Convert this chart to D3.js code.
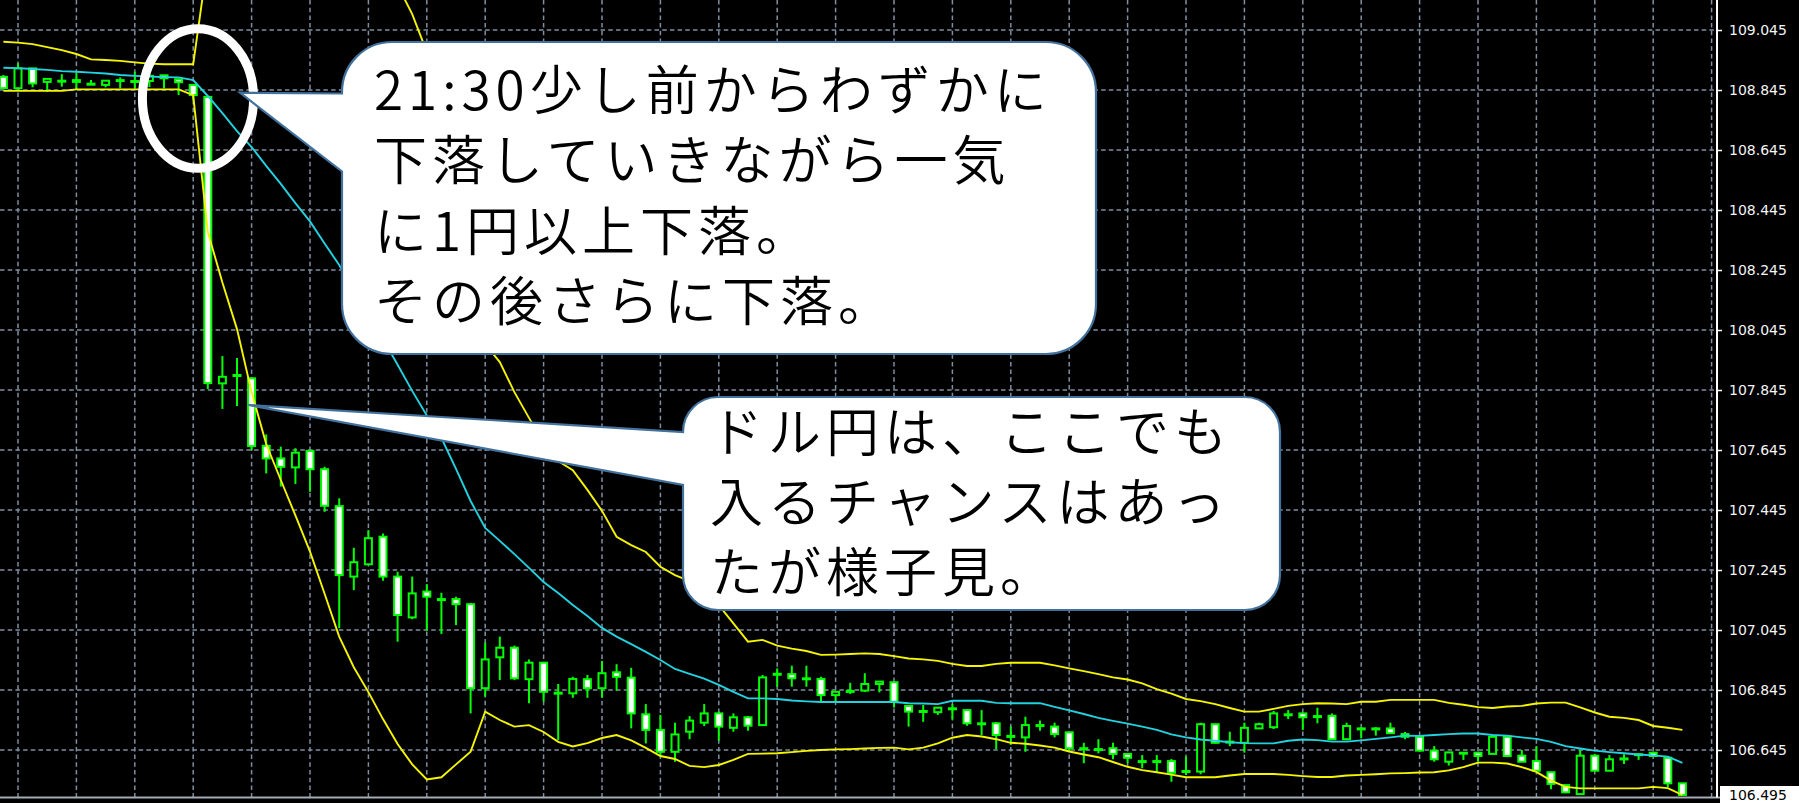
<!DOCTYPE html>
<html><head><meta charset="utf-8">
<script src="https://cdn.jsdelivr.net/npm/d3@7"></script>
<style>html,body{margin:0;padding:0;background:#000;overflow:hidden}</style>
</head><body>
<svg id="c" width="1799" height="803"></svg>
<script>
// ---- data (USD/JPY candles, one entry per bar) ----
const opens = [108.889,108.851,108.917,108.872,108.876,108.878,108.866,108.862,108.878,108.875,108.875,108.894,108.881,108.862,108.822,107.867,107.894,107.884,107.659,107.617,107.587,107.642,107.581,107.458,107.223,107.264,107.356,107.223,107.087,107.173,107.148,107.148,107.131,106.851,106.954,106.986,106.881,106.936,106.836,106.834,106.881,106.851,106.904,106.886,106.764,106.712,106.639,106.706,106.736,106.767,106.719,106.754,106.728,106.897,106.898,106.884,106.882,106.828,106.842,106.843,106.865,106.871,106.792,106.775,106.771,106.784,106.778,106.734,106.734,106.692,106.687,106.728,106.723,106.704,106.651,106.648,106.651,106.632,106.608,106.608,106.608,106.575,106.573,106.731,106.673,106.669,106.717,106.721,106.764,106.767,106.758,106.759,106.681,106.717,106.717,106.717,106.698,106.689,106.643,106.606,106.636,106.636,106.632,106.689,106.626,106.608,106.571,106.528,106.498,106.626,106.576,106.617,106.631,106.636,106.619,106.534];
const highs = [108.895,108.934,108.918,108.882,108.898,108.901,108.878,108.878,108.887,108.906,108.898,108.895,108.882,108.865,108.825,107.958,107.952,107.888,107.697,107.656,107.651,107.645,107.589,107.484,107.319,107.378,107.367,107.239,107.223,107.198,107.169,107.156,107.135,107.003,107.023,106.993,106.947,106.939,106.865,106.889,106.895,106.942,106.931,106.919,106.798,106.762,106.736,106.758,106.798,106.773,106.767,106.758,106.895,106.917,106.926,106.926,106.889,106.839,106.869,106.901,106.873,106.872,106.794,106.795,106.786,106.798,106.782,106.778,106.738,106.723,106.756,106.743,106.736,106.706,106.669,106.681,106.669,106.634,106.628,106.628,106.615,106.623,106.736,106.732,106.706,106.736,106.736,106.775,106.778,106.768,106.786,106.767,106.736,106.721,106.721,106.736,106.705,106.689,106.658,106.637,106.637,106.636,106.695,106.692,106.645,106.658,106.572,106.528,106.645,106.632,106.628,106.631,106.632,106.636,106.619,106.534];
const lows = [108.848,108.847,108.854,108.839,108.856,108.845,108.865,108.854,108.851,108.851,108.855,108.851,108.828,108.812,107.848,107.782,107.792,107.645,107.567,107.523,107.532,107.506,107.439,107.051,107.178,107.264,107.209,107.006,107.081,107.043,107.032,107.062,106.767,106.823,106.878,106.878,106.801,106.806,106.678,106.819,106.819,106.819,106.843,106.717,106.667,106.628,106.606,106.681,106.725,106.676,106.706,106.709,106.728,106.856,106.856,106.856,106.806,106.806,106.832,106.839,106.837,106.787,106.723,106.739,106.762,106.747,106.726,106.695,106.648,106.662,106.639,106.709,106.687,106.643,106.601,106.634,106.614,106.601,106.584,106.569,106.539,106.562,106.564,106.667,106.658,106.636,106.717,106.715,106.748,106.712,106.734,106.678,106.678,106.684,106.693,106.701,106.681,106.639,106.606,106.593,106.612,106.606,106.632,106.621,106.606,106.576,106.514,106.501,106.495,106.575,106.576,106.598,106.612,106.625,106.521,106.492];
const closes = [108.851,108.917,108.867,108.882,108.875,108.872,108.866,108.876,108.878,108.875,108.892,108.884,108.871,108.828,107.868,107.889,107.895,107.658,107.617,107.589,107.636,107.581,107.459,107.228,107.271,107.351,107.223,107.095,107.167,107.156,107.148,107.131,106.851,106.947,106.986,106.884,106.936,106.839,106.836,106.882,106.851,106.901,106.889,106.767,106.712,106.639,106.697,106.743,106.767,106.723,106.754,106.726,106.887,106.899,106.884,106.884,106.828,106.839,106.842,106.865,106.873,106.806,106.773,106.775,106.786,106.784,106.734,106.734,106.695,106.692,106.728,106.728,106.698,106.651,106.651,106.648,106.632,106.619,106.608,106.608,106.569,106.575,106.731,106.669,106.673,106.719,106.731,106.767,106.764,106.754,106.758,106.681,106.725,106.717,106.717,106.701,106.689,106.643,106.614,106.637,106.636,106.625,106.689,106.625,106.606,106.576,106.532,106.504,106.626,106.576,106.614,106.617,106.631,106.625,106.534,106.495];
// Bollinger bands
const bandMiddle = [108.919,108.918,108.915,108.912,108.908,108.906,108.903,108.900,108.895,108.892,108.890,108.888,108.887,108.878,108.825,108.768,108.708,108.655,108.592,108.532,108.468,108.407,108.333,108.262,108.178,108.097,108.015,107.929,107.842,107.760,107.685,107.582,107.475,107.385,107.342,107.298,107.252,107.205,107.168,107.128,107.092,107.052,107.023,106.998,106.972,106.945,106.915,106.899,106.883,106.862,106.839,106.817,106.817,106.815,106.810,106.807,106.805,106.805,106.805,106.805,106.805,106.805,106.801,106.800,106.798,106.809,106.809,106.809,106.802,106.801,106.801,106.801,106.789,106.777,106.765,106.752,106.742,106.733,106.723,106.712,106.697,106.687,106.680,106.676,106.671,106.668,106.667,106.667,106.676,106.680,106.678,106.673,106.673,106.677,106.682,106.687,106.693,106.692,106.695,106.698,106.700,106.700,106.695,106.693,106.687,106.682,106.672,106.658,106.650,106.643,106.638,106.634,106.630,106.627,106.623,106.602];
const bandUpper = [109.006,109.003,108.998,108.988,108.978,108.965,108.947,108.945,108.942,108.937,108.933,108.931,108.931,108.931,109.278,109.334,109.368,109.472,109.518,109.518,109.510,109.508,109.500,109.500,109.436,109.355,109.282,109.194,109.098,108.972,108.816,108.566,108.312,107.998,107.938,107.838,107.752,107.668,107.608,107.578,107.512,107.442,107.356,107.328,107.305,107.256,107.228,107.208,107.178,107.128,107.067,107.006,107.012,106.993,106.983,106.975,106.962,106.963,106.965,106.967,106.965,106.958,106.950,106.947,106.942,106.932,106.925,106.925,106.932,106.936,106.936,106.936,106.927,106.917,106.908,106.898,106.887,106.880,106.867,106.848,106.833,106.815,106.808,106.798,106.785,106.773,106.773,106.782,106.792,106.798,106.801,106.800,106.798,106.806,106.806,106.812,106.812,106.812,106.812,106.802,106.796,106.788,106.785,106.790,106.792,106.800,106.803,106.803,106.787,106.770,106.756,106.752,106.745,106.725,106.719,106.712];
const bandLower = [108.842,108.842,108.842,108.842,108.842,108.847,108.847,108.847,108.847,108.847,108.847,108.847,108.847,108.828,108.372,108.203,108.048,107.838,107.665,107.545,107.427,107.306,107.166,107.023,106.921,106.838,106.748,106.665,106.597,106.547,106.554,106.597,106.639,106.773,106.745,106.723,106.728,106.705,106.672,106.657,106.668,106.685,106.695,106.677,106.652,106.625,106.615,106.592,106.588,106.595,106.612,106.632,106.633,106.634,106.638,106.642,106.645,106.647,106.648,106.650,106.652,106.653,106.647,106.653,106.667,106.686,106.695,106.690,106.681,106.669,106.666,106.660,106.653,106.640,106.630,106.621,106.605,106.589,106.578,106.571,106.563,106.554,106.554,106.554,106.560,106.565,106.565,106.565,106.562,106.558,106.555,106.555,106.560,106.562,106.564,106.567,106.568,106.570,106.571,106.577,106.588,106.603,106.603,106.600,106.588,106.572,106.543,106.522,106.517,106.517,106.517,106.517,106.517,106.522,106.518,106.495];
const priceTicks = [109.045,108.845,108.645,108.445,108.245,108.045,107.845,107.645,107.445,107.245,107.045,106.845,106.645];
const callout1Lines = ["21:30少し前からわずかに","下落していきながら一気","に1円以上下落。","その後さらに下落。"];
const callout2Lines = ["ドル円は、ここでも","入るチャンスはあっ","たが様子見。"];

// ---- layout ----
const W = 1799, H = 803, plotRight = 1717, plotBottom = 797.5;
const svg = d3.select('#c');
svg.append('rect').attr('width', W).attr('height', H).attr('fill', '#000');

const x = d3.scaleLinear().domain([0, opens.length - 1]).range([3.4, 1682.4]);
const y = d3.scaleLinear().domain([106.495, 109.045]).range([795, 30]);

svg.append('defs').append('clipPath').attr('id', 'plot')
  .append('rect').attr('x', 0).attr('y', 0).attr('width', plotRight).attr('height', plotBottom);

// grid
const grid = svg.append('g').attr('clip-path', 'url(#plot)')
  .attr('stroke', '#7f8ea0').attr('stroke-width', 1.5).attr('stroke-dasharray', '4.5,3.2');
grid.selectAll('line.h').data(priceTicks).join('line').attr('class', 'h')
  .attr('x1', 0).attr('x2', plotRight).attr('y1', d => y(d)).attr('y2', d => y(d));
const vIdx = d3.range(1, 118, 4);
grid.selectAll('line.v').data(vIdx).join('line').attr('class', 'v')
  .attr('x1', d => x(d)).attr('x2', d => x(d)).attr('y1', 0).attr('y2', plotBottom);

// candles
const bars = d3.range(opens.length);
const cg = svg.append('g').attr('clip-path', 'url(#plot)');
cg.selectAll('line.wick').data(bars).join('line').attr('class', 'wick')
  .attr('x1', i => x(i)).attr('x2', i => x(i))
  .attr('y1', i => y(highs[i])).attr('y2', i => y(lows[i]))
  .attr('stroke', '#00ff00').attr('stroke-width', 2);
cg.selectAll('rect.body').data(bars).join('rect').attr('class', 'body')
  .attr('x', i => x(i) - 3.5).attr('width', 7)
  .attr('y', i => y(Math.max(opens[i], closes[i])))
  .attr('height', i => Math.max(Math.abs(y(opens[i]) - y(closes[i])), 1))
  .attr('fill', i => closes[i] > opens[i] ? '#000' : '#fff')
  .attr('stroke', '#00ff00').attr('stroke-width', 2);

// bands
const line = d3.line().x((d, i) => x(i)).y(d => y(d));
const lg = svg.append('g').attr('clip-path', 'url(#plot)').attr('fill', 'none');
lg.append('path').attr('d', line(bandUpper)).attr('stroke', '#f5f500').attr('stroke-width', 1.9);
lg.append('path').attr('d', line(bandLower)).attr('stroke', '#f5f500').attr('stroke-width', 1.9);
lg.append('path').attr('d', line(bandMiddle)).attr('stroke', '#22d2e0').attr('stroke-width', 1.9);

// bottom border / price line
svg.append('line').attr('x1', 0).attr('x2', plotRight + 3).attr('y1', plotBottom).attr('y2', plotBottom)
  .attr('stroke', '#a3abb4').attr('stroke-width', 2);

// axis
svg.append('line').attr('x1', plotRight).attr('x2', plotRight).attr('y1', 0).attr('y2', plotBottom)
  .attr('stroke', '#fff').attr('stroke-width', 2);
const axis = d3.axisRight(y).tickValues(priceTicks).tickSize(5).tickPadding(7).tickFormat(d => d.toFixed(3));
const ag = svg.append('g').attr('transform', `translate(${plotRight},0)`).call(axis);
ag.select('.domain').remove();
ag.selectAll('line').attr('stroke', '#fff').attr('stroke-width', 1.5);
ag.selectAll('text').attr('fill', '#f4f4f4').attr('font-family', 'DejaVu Sans, sans-serif').attr('font-size', 14);

// current price label
const last = closes[closes.length - 1];
svg.append('rect').attr('x', plotRight + 3).attr('y', y(last) - 9).attr('width', W - plotRight - 3).attr('height', 20).attr('fill', '#fff');
svg.append('text').attr('x', plotRight + 12).attr('y', y(last)).attr('dy', '0.36em')
  .attr('font-family', 'DejaVu Sans, sans-serif').attr('font-size', 14).attr('fill', '#000').text(last.toFixed(3));

// highlight ellipse
svg.append('ellipse').attr('cx', 198).attr('cy', 98.5).attr('rx', 55.6).attr('ry', 69.8)
  .attr('fill', 'none').attr('stroke', '#fff').attr('stroke-width', 9);

// callouts
function callout(x0, y0, x1, y1, r, wTop, wBot, tx, ty) {
  const p = d3.path();
  p.moveTo(x0 + r, y0);
  p.lineTo(x1 - r, y0);
  p.arcTo(x1, y0, x1, y0 + r, r);
  p.lineTo(x1, y1 - r);
  p.arcTo(x1, y1, x1 - r, y1, r);
  p.lineTo(x0 + r, y1);
  p.arcTo(x0, y1, x0, y1 - r, r);
  p.lineTo(x0, wBot);
  p.lineTo(tx, ty);
  p.lineTo(x0, wTop);
  p.lineTo(x0, y0 + r);
  p.arcTo(x0, y0, x0 + r, y0, r);
  p.closePath();
  svg.append('path').attr('d', p.toString()).attr('fill', '#fff')
    .attr('stroke', '#41719c').attr('stroke-width', 2.2).attr('stroke-linejoin', 'miter');
}
callout(342, 42, 1096, 354, 50, 93.5, 171.5, 240, 92.7);
callout(683, 397, 1280, 610, 35, 432, 485, 248.5, 405);

function writeLines(lines, x0, baselines) {
  svg.append('g').selectAll('text').data(lines).join('text')
    .attr('x', x0).attr('y', (d, i) => baselines[i])
    .attr('font-family', '"Noto Sans CJK JP", "Noto Sans CJK SC", sans-serif')
    .attr('font-weight', 350).attr('font-size', 53).style('letter-spacing', '5px')
    .attr('fill', '#000').text(d => d);
}
writeLines(callout1Lines, 374, [110, 180, 251, 321]);
writeLines(callout2Lines, 710, [452, 522, 592]);
</script>
</body></html>
